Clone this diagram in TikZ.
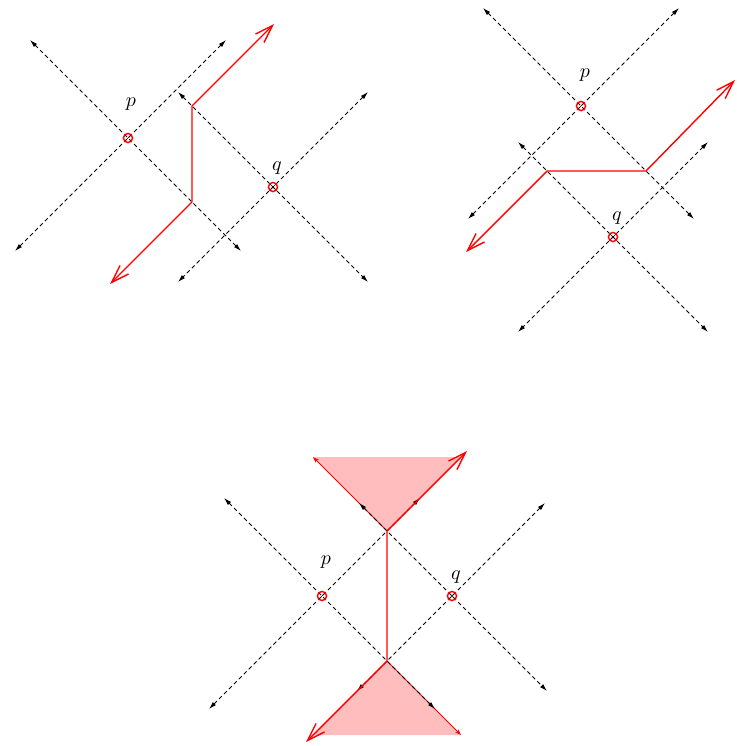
\documentclass[tikz,border=0pt]{standalone}
\usepackage{tikz}
\usetikzlibrary{arrows.meta,positioning,calc}
\tikzset{
  coneline/.style={black, line width=0.4pt, dash pattern=on 2pt off 1.5pt,
                   {Latex[length=3.8pt,width=2.2pt]}-{Latex[length=3.8pt,width=2.2pt]}},
  worldline/.style={red, line width=0.7pt},
  signal/.style={worldline, {Straight Barb[length=9pt,width=6pt]}-{Straight Barb[length=9pt,width=6pt]}},
  coneedge/.style={red, line width=0.45pt, -{Stealth[length=3pt,width=2pt]}},
  futurefill/.style={fill=red!26, draw=none},
  evmark/.style={circle, draw=red, line width=0.7pt, minimum size=4.6pt, inner sep=0pt},
  evp/.style={evmark, path picture={\draw[black, line width=0.3pt]
      (path picture bounding box.south west) -- (path picture bounding box.north east);}},
  evq/.style={evmark, path picture={\draw[black, line width=0.3pt]
      (path picture bounding box.south west) -- (path picture bounding box.north east)
      (path picture bounding box.north west) -- (path picture bounding box.south east);}},
  evlabel/.style={font=\normalsize, inner sep=0pt},
}
% two null lines through an event: #2 reach upwards, #3 reach downwards
\newcommand{\lightcone}[3]{%
  \draw[coneline] ($(#1)+(-#2,-#2)$) -- ($(#1)+(#3,#3)$);
  \draw[coneline] ($(#1)+(#2,-#2)$) -- ($(#1)+(-#3,#3)$);}

\begin{document}
\begin{tikzpicture}[x=0.5pt,y=-0.5pt]
  \useasboundingbox (0,0) rectangle (736,746);

  % top left
  \coordinate (p1) at (128,138);
  \coordinate (q1) at (273,187);
  \lightcone{p1}{98}{113}
  \lightcone{q1}{95}{95}
  \coordinate (lo1) at (192,202);
  \coordinate (hi1) at (192,106);
  \coordinate (in1) at (110,284);
  \coordinate (out1) at (274,24);
  \draw[signal] (in1) -- (lo1) -- (hi1) -- (out1);
  \node[evp] (evP1) at (p1) {};
  \node[evq] (evQ1) at (q1) {};
  \node[evlabel, above=11pt of evP1, xshift=1.5pt] (labP1) {$p$};
  \node[evlabel, above=3.5pt of evQ1, xshift=2pt] (labQ1) {$q$};

  % top right
  \coordinate (p2) at (581,106);
  \coordinate (q2) at (613,237);
  \lightcone{p2}{98}{113}
  \lightcone{q2}{95}{95}
  \coordinate (le2) at (547,171);
  \coordinate (ri2) at (646,171);
  \coordinate (in2) at (466,252);
  \coordinate (out2) at (735,80);
  \draw[signal] (in2) -- (le2) -- (ri2) -- (out2);
  \node[evp] (evP2) at (p2) {};
  \node[evq] (evQ2) at (q2) {};
  \node[evlabel, above=9.5pt of evP2, xshift=2pt] (labP2) {$p$};
  \node[evlabel, above=3.5pt of evQ2, xshift=2pt] (labQ2) {$q$};

  % bottom
  \coordinate (p3) at (322,596);
  \coordinate (q3) at (452,596);
  \coordinate (hi3) at (387,531);
  \coordinate (lo3) at (387,661);
  \coordinate (tl3) at (313,457);
  \coordinate (tr3) at (461,457);
  \coordinate (bl3) at (313,735);
  \coordinate (br3) at (461,735);
  \fill[futurefill] (hi3) -- (tl3) -- (tr3) -- cycle;
  \fill[futurefill] (lo3) -- (bl3) -- (br3) -- cycle;
  \draw[coneedge] (hi3) -- (tl3);
  \draw[coneedge] (lo3) -- (br3);
  \lightcone{p3}{98}{113}
  \lightcone{q3}{93}{95}
  \coordinate (in3) at (306,742);
  \coordinate (out3) at (467,451);
  \draw[signal] (in3) -- (lo3) -- (hi3) -- (out3);
  \node[evp] (evP3) at (p3) {};
  \node[evq] (evQ3) at (q3) {};
  \node[evlabel, above=11pt of evP3, xshift=2pt] (labP3) {$p$};
  \node[evlabel, above=3.5pt of evQ3, xshift=2pt] (labQ3) {$q$};
\end{tikzpicture}
\end{document}
